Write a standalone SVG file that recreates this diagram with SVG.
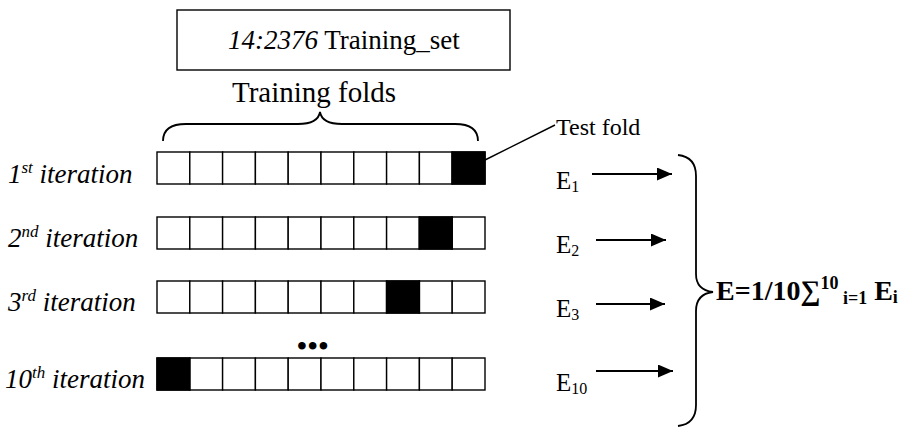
<svg xmlns="http://www.w3.org/2000/svg" width="904" height="428" viewBox="0 0 904 428">
  <style>
    text { font-family: "Liberation Serif", "Times New Roman", serif; fill: #000; font-size: 27px; }
    .it { font-style: italic; }
    .bd { font-weight: bold; }
    .sup { font-size: 17px; }
    .cell { fill: #fff; stroke: #000; stroke-width: 1.4; }
    .cell.test { fill: #000; }
    .brace { fill: none; stroke: #000; stroke-width: 1.8; }
    .conn { fill: none; stroke: #000; stroke-width: 2; }
    .lead { fill: none; stroke: #000; stroke-width: 1.4; }
  </style>
  <defs>
    <marker id="arrow" viewBox="0 0 15 13" refX="15" refY="6.5" markerWidth="15" markerHeight="13" markerUnits="userSpaceOnUse" orient="auto">
      <path d="M0,0 L15,6.5 L0,13 Z" fill="#000"/>
    </marker>
    <!-- ten folds of one iteration -->
    <g id="folds">
      <rect class="cell" x="0" y="0" width="32.8" height="32"/>
      <rect class="cell" x="32.8" y="0" width="32.8" height="32"/>
      <rect class="cell" x="65.6" y="0" width="32.8" height="32"/>
      <rect class="cell" x="98.4" y="0" width="32.8" height="32"/>
      <rect class="cell" x="131.2" y="0" width="32.8" height="32"/>
      <rect class="cell" x="164" y="0" width="32.8" height="32"/>
      <rect class="cell" x="196.8" y="0" width="32.8" height="32"/>
      <rect class="cell" x="229.6" y="0" width="32.8" height="32"/>
      <rect class="cell" x="262.4" y="0" width="32.8" height="32"/>
      <rect class="cell" x="295.2" y="0" width="32.8" height="32"/>
    </g>
  </defs>
  <rect width="904" height="428" fill="#fff"/>

  <!-- dataset box -->
  <g id="training-set">
    <rect x="177" y="10" width="333" height="60" fill="#fff" stroke="#000" stroke-width="1.4"/>
    <text x="228" y="49"><tspan class="it">14:2376</tspan> Training_set</text>
  </g>

  <!-- training folds label with brace -->
  <g id="training-folds">
    <text x="232" y="102" style="font-size:29px">Training folds</text>
    <path class="brace" d="M163,141 Q163,124 186,124 L298,124 Q318,124 320,112 Q322,124 342,124 L455,124 Q478,124 478,141"/>
  </g>

  <!-- test fold label -->
  <g id="test-fold">
    <text x="556" y="135" style="font-size:24px">Test fold</text>
  </g>

  <!-- iteration 1 -->
  <g id="iter-1">
    <text class="it" x="8" y="183">1<tspan class="sup" dy="-10">st</tspan><tspan dy="10"> iteration</tspan></text>
    <use href="#folds" x="157" y="152"/>
    <rect class="cell test" x="452.2" y="152" width="32.8" height="32"/>
  </g>

  <!-- iteration 2 -->
  <g id="iter-2">
    <text class="it" x="8" y="247">2<tspan class="sup" dy="-10">nd</tspan><tspan dy="10"> iteration</tspan></text>
    <use href="#folds" x="157" y="217"/>
    <rect class="cell test" x="419.4" y="217" width="32.8" height="32"/>
  </g>

  <!-- iteration 3 -->
  <g id="iter-3">
    <text class="it" x="8" y="311">3<tspan class="sup" dy="-10">rd</tspan><tspan dy="10"> iteration</tspan></text>
    <use href="#folds" x="157" y="281"/>
    <rect class="cell test" x="386.6" y="281" width="32.8" height="32"/>
  </g>

  <!-- ellipsis between iterations -->
  <g id="ellipsis">
    <text class="bd" x="297" y="355" style="font-size:28px;letter-spacing:1px">•••</text>
  </g>

  <!-- iteration 10 -->
  <g id="iter-10">
    <text class="it" x="5" y="388">10<tspan class="sup" dy="-10">th</tspan><tspan dy="10"> iteration</tspan></text>
    <use href="#folds" x="157" y="358"/>
    <rect class="cell test" x="157" y="358" width="32.8" height="32"/>
  </g>

  <!-- per-iteration errors -->
  <g id="e1"><text x="556" y="189" style="font-size:25px">E<tspan style="font-size:16px" dy="3">1</tspan></text></g>
  <g id="e2"><text x="556" y="253" style="font-size:25px">E<tspan style="font-size:16px" dy="3">2</tspan></text></g>
  <g id="e3"><text x="556" y="317" style="font-size:25px">E<tspan style="font-size:16px" dy="3">3</tspan></text></g>
  <g id="e10"><text x="556" y="391" style="font-size:25px">E<tspan style="font-size:16px" dy="3">10</tspan></text></g>

  <!-- averaged error -->
  <g id="e-mean">
    <path class="brace" d="M678,155 Q696,157 696,176 L696,274 Q696,290 713,292 Q696,294 696,311 L696,405 Q696,424 678,426"/>
    <text class="bd" x="716" y="300" style="font-size:28px">E=1/10∑<tspan style="font-size:18px" dy="-11">10</tspan><tspan style="font-size:18px" dy="15"> i=1</tspan><tspan dy="-4"> E</tspan><tspan style="font-size:18px" dy="3">i</tspan></text>
  </g>

  <!-- connectors -->
  <g id="connectors">
    <path class="lead" d="M485,160 L555,125"/>
    <path class="conn" d="M592,174 L672,174" marker-end="url(#arrow)"/>
    <path class="conn" d="M596,240 L666,240" marker-end="url(#arrow)"/>
    <path class="conn" d="M596,304 L665,304" marker-end="url(#arrow)"/>
    <path class="conn" d="M596,371 L673,371" marker-end="url(#arrow)"/>
  </g>
</svg>
